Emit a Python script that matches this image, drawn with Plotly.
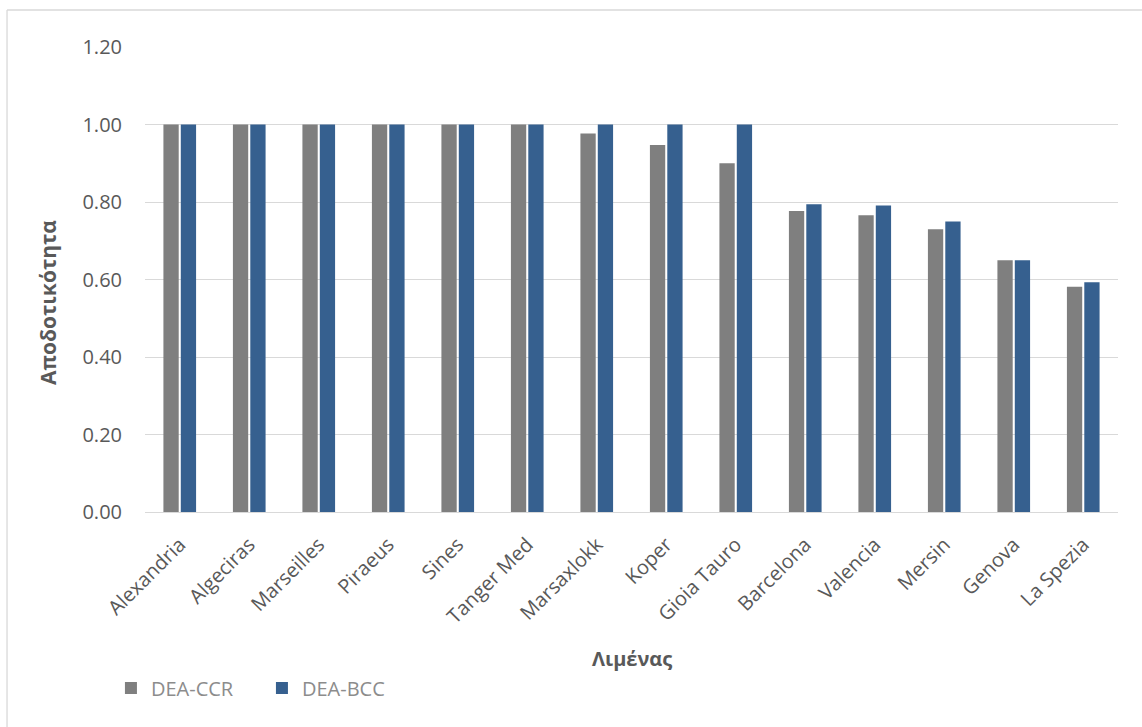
import plotly.graph_objects as go

ports = ["Alexandria", "Algeciras", "Marseilles", "Piraeus", "Sines", "Tanger Med",
         "Marsaxlokk", "Koper", "Gioia Tauro", "Barcelona", "Valencia", "Mersin",
         "Genova", "La Spezia"]
dea_ccr = [1.00, 1.00, 1.00, 1.00, 1.00, 1.00, 0.977, 0.947, 0.900, 0.777, 0.766, 0.730, 0.650, 0.581]
dea_bcc = [1.00, 1.00, 1.00, 1.00, 1.00, 1.00, 1.00, 1.00, 1.00, 0.794, 0.791, 0.750, 0.650, 0.593]
y_ticks = [0.0, 0.2, 0.4, 0.6, 0.8, 1.0, 1.2]
y_tick_text = ["0.00", "0.20", "0.40", "0.60", "0.80", "1.00", "1.20"]

FONT = "Open Sans"
TXT = "#595959"

fig = go.Figure()
fig.add_trace(go.Bar(name="DEA-CCR", x=ports, y=dea_ccr, marker_color="#7f7f7f",
                     marker_line_width=0))
fig.add_trace(go.Bar(name="DEA-BCC", x=ports, y=dea_bcc, marker_color="#36608f",
                     marker_line_width=0))

fig.update_layout(
    width=1142, height=727,
    margin=dict(l=145, r=24, t=47, b=215),
    paper_bgcolor="white", plot_bgcolor="white",
    barmode="group", bargap=0.5, bargroupgap=0.12,
    font=dict(family=FONT, color=TXT, size=18),
    showlegend=True,
    legend=dict(orientation="h", x=-0.035, xanchor="left", y=-0.3785, yanchor="middle",
                font=dict(size=20, color="#8c8c8c"), bgcolor="rgba(0,0,0,0)",
                traceorder="normal", entrywidth=106, entrywidthmode="pixels"),
    xaxis=dict(showgrid=False, showline=False, zeroline=False, tickangle=-45,
               tickfont=dict(size=20, color=TXT), ticks="", ticklabelstandoff=16),
    yaxis=dict(range=[0, 1.2], tickvals=y_ticks, ticktext=y_tick_text,
               showgrid=True, gridcolor="#d9d9d9", gridwidth=1.3,
               zeroline=True, zerolinecolor="#d9d9d9", zerolinewidth=1.3,
               showline=False, ticks="", tickfont=dict(size=20, color=TXT),
               ticklabelstandoff=22),
    annotations=[
        dict(text="<b>Αποδοτικότητα</b>", xref="paper", yref="paper",
             x=-0.0997, y=0.4516, textangle=-90, showarrow=False,
             font=dict(size=21, color=TXT), xanchor="center", yanchor="middle"),
        dict(text="<b>Λιμένας</b>", xref="paper", yref="paper",
             x=0.5, y=-0.3144, showarrow=False,
             font=dict(size=20, color=TXT), xanchor="center", yanchor="middle"),
    ],
    shapes=[
        dict(type="line", xref="paper", yref="paper", x0=-0.1418, x1=1.03,
             y0=1.0796, y1=1.0796, line=dict(color="#d9d9d9", width=1.3)),
        dict(type="line", xref="paper", yref="paper", x0=-0.1418, x1=-0.1418,
             y0=1.0796, y1=-0.47, line=dict(color="#d9d9d9", width=1.3)),
    ],
)

fig.write_html("out.html")
